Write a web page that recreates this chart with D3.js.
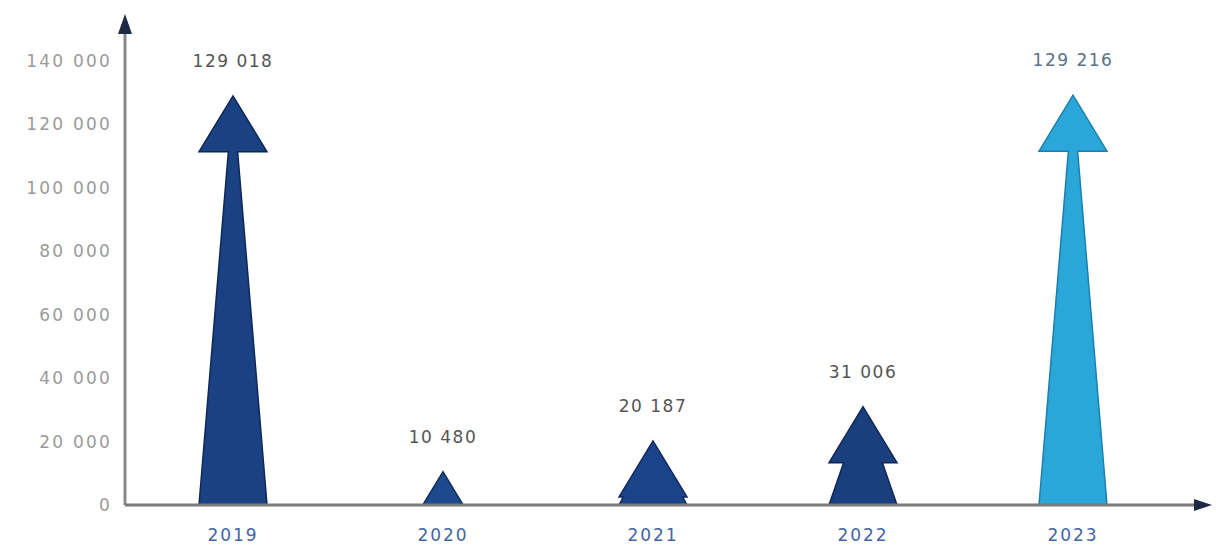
<!DOCTYPE html>
<html>
<head>
<meta charset="utf-8">
<script src="https://cdn.jsdelivr.net/npm/d3@7"></script>
<style>
  html, body { margin: 0; padding: 0; background: #fff; }
  svg { display: block; font-family: "DejaVu Sans", sans-serif; }
</style>
</head>
<body>
<svg id="chart" width="1216" height="549"></svg>
<script>
// Yearly totals
const years = ["2019", "2020", "2021", "2022", "2023"];
const values = [129018, 10480, 20187, 31006, 129216];
const valueLabels = ["129 018", "10 480", "20 187", "31 006", "129 216"];
const yTicks = [0, 20000, 40000, 60000, 80000, 100000, 120000, 140000];
const fills = ["#1a4282", "#1c4a8c", "#1b4389", "#1a3f7e", "#2aa7d8"];
const edges = ["#0f2757", "#10305f", "#10295c", "#0f2653", "#1b80b0"];

const svg = d3.select("#chart");
const baseY = 505, topY = 61;
const axisX = 125;

const x = d3.scaleBand().domain(years).range([128, 1178]).padding(0);
const y = d3.scaleLinear().domain([0, 140000]).range([baseY, topY]);

const fmt = v => d3.format(",")(v).replace(/,/g, " ");

// Y tick labels
const yAxis = d3.axisLeft(y).tickValues(yTicks).tickSize(0).tickPadding(13).tickFormat(fmt);
const gy = svg.append("g").attr("transform", `translate(${axisX},0)`).call(yAxis);
gy.select(".domain").remove();
gy.selectAll("text").attr("fill", "#9a9a9a")
  .style("font-size", "17px").style("letter-spacing", "2.2px")
  .style("font-family", "DejaVu Sans, sans-serif");

// X labels
const xAxis = d3.axisBottom(x).tickSize(0).tickPadding(24);
const gx = svg.append("g").attr("transform", `translate(0,${baseY})`).call(xAxis);
gx.select(".domain").remove();
gx.selectAll("text").attr("fill", "#4464a2")
  .style("font-size", "17px").style("letter-spacing", "2px")
  .style("font-family", "DejaVu Sans, sans-serif");

// Arrow-shaped bars: tapering spike crowned with an arrowhead
const W = 68, headH = 56;
const g = svg.append("g");
years.forEach((yr, i) => {
  const cx = x(yr) + x.bandwidth() / 2;
  const tip = y(values[i]);
  const h = baseY - tip;
  let d;
  if (h <= headH) {
    const hw = (W / 2) * h / headH;
    d = `M${cx - hw},${baseY} L${cx},${tip} L${cx + hw},${baseY} Z`;
  } else {
    const hw = W / 2;
    const sw = (W / 2) * headH / h;
    const hy = tip + headH;
    d = `M${cx - W / 2},${baseY} L${cx - sw},${hy} L${cx - hw},${hy} L${cx},${tip} ` +
        `L${cx + hw},${hy} L${cx + sw},${hy} L${cx + W / 2},${baseY} Z`;
  }
  g.append("path").attr("d", d)
    .attr("fill", fills[i]).attr("stroke", edges[i]).attr("stroke-width", 1.5)
    .attr("stroke-linejoin", "miter");
  g.append("text")
    .attr("x", cx).attr("y", tip - 29)
    .attr("text-anchor", "middle")
    .attr("fill", i === 4 ? "#5a7188" : "#555")
    .style("font-size", "17px").style("letter-spacing", "1.5px")
    .text(valueLabels[i]);
});

// Axis lines with arrowheads
svg.append("line").attr("x1", axisX).attr("x2", axisX).attr("y1", baseY).attr("y2", 30)
  .attr("stroke", "#8a8a8a").attr("stroke-width", 3);
svg.append("path").attr("d", `M${axisX - 7},34 L${axisX},14 L${axisX + 7},34 Z`).attr("fill", "#1e2a44");
svg.append("line").attr("x1", axisX).attr("x2", 1198).attr("y1", baseY).attr("y2", baseY)
  .attr("stroke", "#7a7a7a").attr("stroke-width", 3);
svg.append("path").attr("d", `M1194,${baseY - 6} L1212,${baseY} L1194,${baseY + 6} Z`).attr("fill", "#1e2a44");
</script>
</body>
</html>
